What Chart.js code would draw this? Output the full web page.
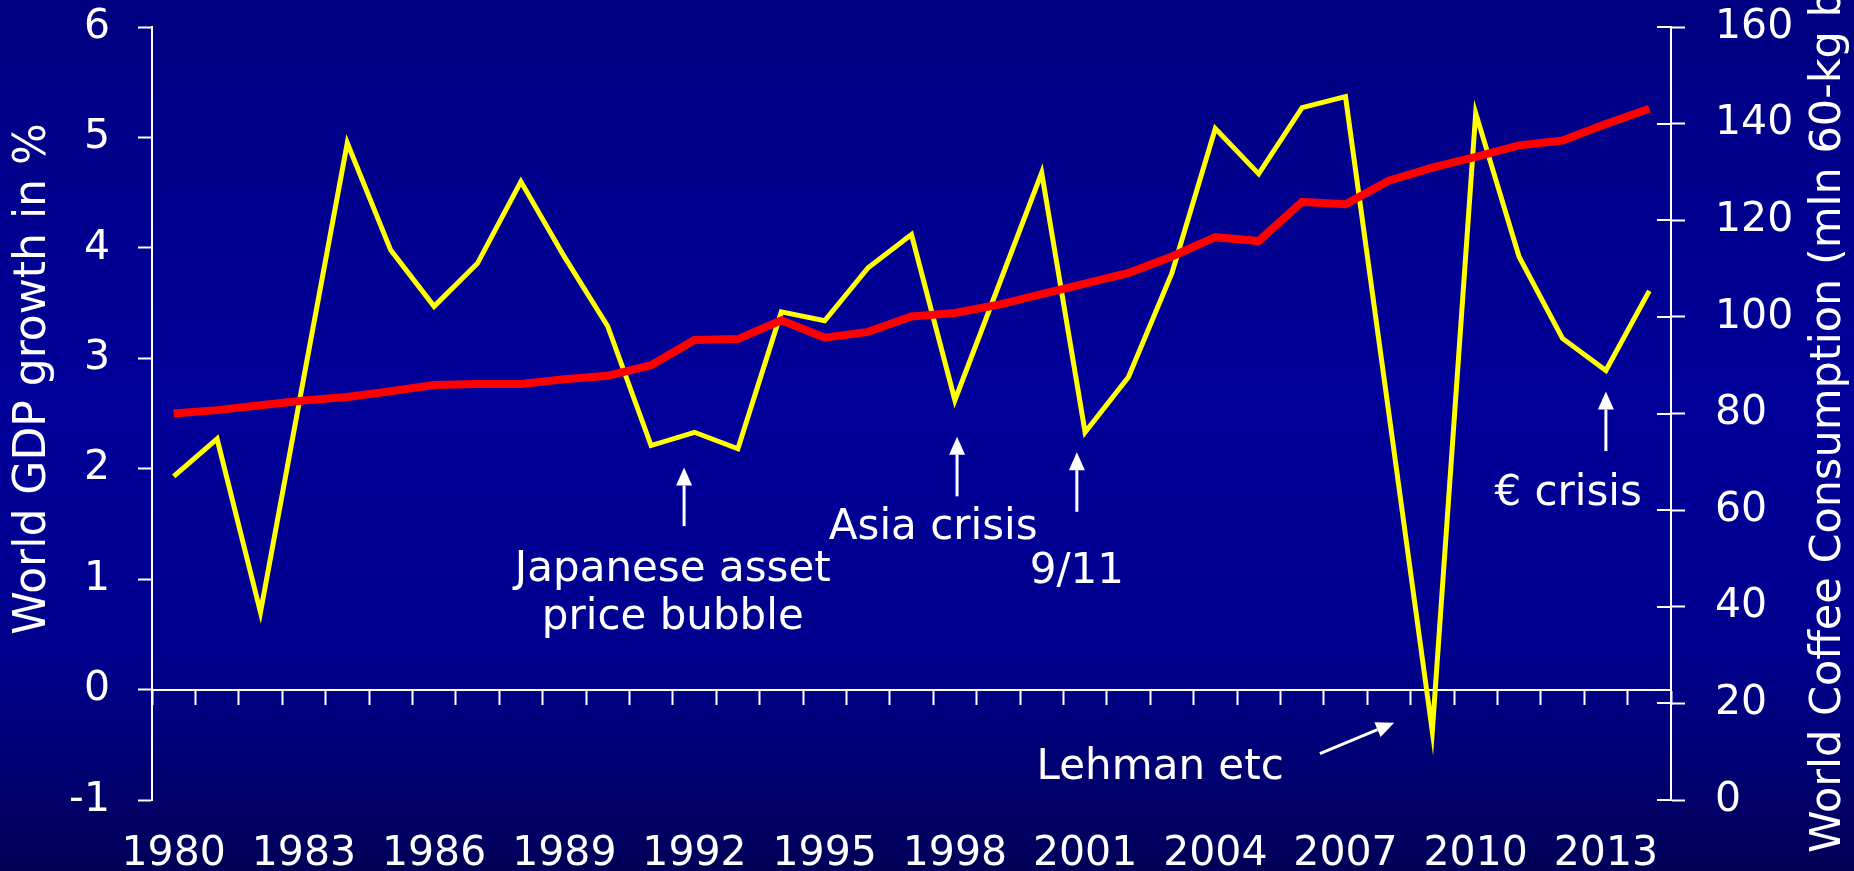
<!DOCTYPE html>
<html><head><meta charset="utf-8">
<script src="https://cdn.jsdelivr.net/npm/chart.js@4.4.1/dist/chart.umd.min.js"></script>
<style>html,body{margin:0;padding:0;background:#000080;overflow:hidden}#wrap{width:1854px;height:871px;position:relative}</style>
</head><body><div id="wrap"><canvas id="c" width="1854" height="871"></canvas></div>
<script>
const years = ["1980","1981","1982","1983","1984","1985","1986","1987","1988","1989","1990","1991","1992","1993","1994","1995","1996","1997","1998","1999","2000","2001","2002","2003","2004","2005","2006","2007","2008","2009","2010","2011","2012","2013","2014"];
const xTickLabels = ["1980","1983","1986","1989","1992","1995","1998","2001","2004","2007","2010","2013"];
const gdpGrowth = [1.93,2.27,0.70,2.83,4.95,3.98,3.47,3.86,4.60,3.92,3.29,2.21,2.33,2.18,3.42,3.34,3.82,4.12,2.62,3.65,4.68,2.33,2.83,3.77,5.08,4.67,5.27,5.37,2.50,-0.38,5.22,3.92,3.18,2.89,3.61];
const coffeeConsumption = [80.0,80.7,81.7,82.7,83.4,84.6,85.9,86.1,86.1,87.1,87.8,90.0,95.2,95.4,99.3,95.7,96.9,100.1,100.8,102.5,104.7,106.9,109.1,112.5,116.5,115.7,123.8,123.3,128.2,130.9,133.1,135.5,136.5,139.9,143.1];
const leftAxisTitle = "World GDP growth in %";
const rightAxisTitle = "World Coffee Consumption (mln 60-kg bags)";
// annotation texts: x = category index (fractional), y = GDP value
const annotationTexts = [
  {text:"Japanese asset", x:11.5, y:1.08},
  {text:"price bubble", x:11.5, y:0.65},
  {text:"Asia crisis", x:17.5, y:1.46},
  {text:"9/11", x:20.81, y:1.06},
  {text:"\u20ac crisis", x:32.13, y:1.77},
  {text:"Lehman etc", x:22.73, y:-0.71}
];
const annotationArrows = [
  {x1:11.76, y1:1.48, x2:11.76, y2:2.01},
  {x1:18.05, y1:1.75, x2:18.05, y2:2.29},
  {x1:20.81, y1:1.61, x2:20.81, y2:2.15},
  {x1:33.0, y1:2.16, x2:33.0, y2:2.70},
  {x1:26.41, y1:-0.58, x2:28.12, y2:-0.30}
];

const FONT = "'DejaVu Sans', Verdana, sans-serif";

const deco = {
  id:'deco',
  beforeDraw(chart){
    const {ctx, width, height} = chart;
    const g = ctx.createLinearGradient(0,0,0,height);
    g.addColorStop(0,'#000082');
    g.addColorStop(0.45,'#00009a');
    g.addColorStop(0.75,'#00008e');
    g.addColorStop(1,'#000058');
    ctx.save(); ctx.fillStyle=g; ctx.fillRect(0,0,width,height); ctx.restore();
  },
  afterDraw(chart){
    const {ctx} = chart;
    const xs = chart.scales.x, ys = chart.scales.y, y1 = chart.scales.y1;
    ctx.save();
    ctx.strokeStyle='#fff'; ctx.lineWidth=2;
    const ax = y1.left;
    y1.ticks.forEach(t=>{
      const py = Math.round(y1.getPixelForValue(t.value));
      ctx.beginPath(); ctx.moveTo(ax-14, py); ctx.lineTo(ax, py); ctx.stroke();
    });
    ctx.fillStyle='#fff';
    ctx.textBaseline='alphabetic';
    ctx.font = "44px " + FONT;
    ctx.save(); ctx.translate(45, 379); ctx.rotate(-Math.PI/2); ctx.textAlign='center'; ctx.fillText(leftAxisTitle,0,0); ctx.restore();
    ctx.font = "43px " + FONT;
    ctx.save(); ctx.translate(1840, 853); ctx.rotate(-Math.PI/2); ctx.textAlign='left'; ctx.fillText(rightAxisTitle,0,0); ctx.restore();
    ctx.font = "42px " + FONT;
    ctx.textAlign='center'; ctx.textBaseline='middle';
    annotationTexts.forEach(a=>{
      ctx.fillText(a.text, xs.getPixelForValue(a.x), ys.getPixelForValue(a.y));
    });
    annotationArrows.forEach(a=>{
      const x1 = xs.getPixelForValue(a.x1), yA = ys.getPixelForValue(a.y1);
      const x2 = xs.getPixelForValue(a.x2), yB = ys.getPixelForValue(a.y2);
      const ang = Math.atan2(yB-yA, x2-x1);
      const hl = 18, hw = 8;
      const bx = x2 - hl*Math.cos(ang), by = yB - hl*Math.sin(ang);
      ctx.strokeStyle='#fff'; ctx.lineWidth=3;
      ctx.beginPath(); ctx.moveTo(x1,yA); ctx.lineTo(bx,by); ctx.stroke();
      ctx.beginPath();
      ctx.moveTo(x2,yB);
      ctx.lineTo(bx + hw*Math.sin(ang), by - hw*Math.cos(ang));
      ctx.lineTo(bx - hw*Math.sin(ang), by + hw*Math.cos(ang));
      ctx.closePath(); ctx.fill();
    });
    ctx.restore();
  }
};

const tickFont = {family: FONT, size: 41};

new Chart(document.getElementById('c'), {
  type:'line',
  data:{
    labels: years,
    datasets:[
      {label:'Coffee', data: coffeeConsumption, xAxisID:'x', yAxisID:'y1', borderColor:'#ff0000', borderWidth:8, pointRadius:0, tension:0, fill:false, order:0},
      {label:'GDP', data: gdpGrowth, xAxisID:'x', yAxisID:'y', borderColor:'#ffff00', borderWidth:5, pointRadius:0, tension:0, fill:false, order:1}
    ]
  },
  options:{
    responsive:false, animation:false,
    layout:{padding:{top:27,left:0,right:0,bottom:0}},
    plugins:{legend:{display:false}, tooltip:{enabled:false}},
    scales:{
      x:{type:'category', position:{y:0}, offset:true,
         grid:{offset:true, drawOnChartArea:false, drawTicks:true, tickLength:14, tickWidth:2, color:'#fff', tickColor:'#fff'},
         border:{color:'#fff', width:2}, ticks:{display:false}},
      xb:{type:'category', position:'bottom', offset:true, labels: years,
         grid:{display:false, drawTicks:false}, border:{display:false},
         ticks:{autoSkip:false, maxRotation:0, minRotation:0, color:'#fff', font:tickFont, padding:30,
                callback:(v,i)=> xTickLabels.includes(years[i]) ? years[i] : ''},
         afterFit:s=>{s.height=71; s.paddingLeft=0; s.paddingRight=0;}},
      y:{position:'left', min:-1, max:6,
         ticks:{stepSize:1, color:'#fff', font:tickFont, padding:28},
         grid:{drawOnChartArea:false, tickLength:14, tickWidth:2, color:'#fff', tickColor:'#fff'},
         border:{color:'#fff', width:2}, afterFit:s=>{s.width=152; s.paddingTop=0; s.paddingBottom=0;}},
      y1:{position:'right', min:0, max:160,
         ticks:{stepSize:20, color:'#fff', font:tickFont, padding:30},
         grid:{drawOnChartArea:false, tickLength:14, tickWidth:2, color:'#fff', tickColor:'#fff'},
         border:{color:'#fff', width:2}, afterFit:s=>{s.width=183; s.paddingTop=0; s.paddingBottom=0;}}
    }
  },
  plugins:[deco]
});
</script></body></html>
